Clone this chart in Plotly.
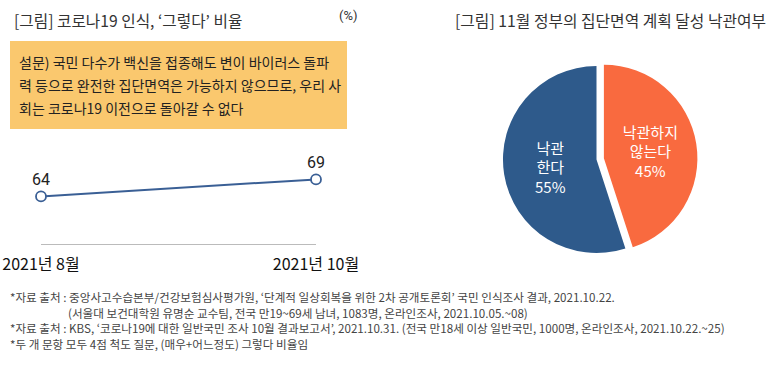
import plotly.graph_objects as go

W, H = 773, 367
FONT = "Roboto, Noto Sans CJK KR"
KFONT = "Noto Sans CJK KR"

# ---- data ----
line_periods = ["2021년 8월", "2021년 10월"]
line_values = [64, 69]

pie_labels = ["낙관하지<br>않는다", "낙관<br>한다"]
pie_values = [45, 55]
pie_colors = ["#F96A3F", "#2E5A8B"]

title_left = "[그림] 코로나19 인식, ‘그렇다’ 비율"
title_right = "[그림] 11월 정부의 집단면역 계획 달성 낙관여부"
question_lines = [
    "설문) 국민 다수가 백신을 접종해도 변이 바이러스 돌파",
    "력 등으로 완전한 집단면역은 가능하지 않으므로, 우리 사",
    "회는 코로나19 이전으로 돌아갈 수 없다",
]
notes = [
    "*자료 출처 : 중앙사고수습본부/건강보험심사평가원, ‘단계적 일상회복을 위한 2차 공개토론회’ 국민 인식조사 결과, 2021.10.22.",
    "(서울대 보건대학원 유명순 교수팀, 전국 만19~69세 남녀, 1083명, 온라인조사, 2021.10.05.~08)",
    "*자료 출처 : KBS, ‘코로나19에 대한 일반국민 조사 10월 결과보고서’, 2021.10.31. (전국 만18세 이상 일반국민, 1000명, 온라인조사, 2021.10.22.~25)",
    "*두 개 문항 모두 4점 척도 질문, (매우+어느정도) 그렇다 비율임",
]

def px(x):
    return x / W

def py(y):
    return 1 - y / H

fig = go.Figure()

fig.add_trace(go.Scatter(
    x=[0, 1], y=line_values,
    mode="lines+markers+text",
    text=[str(v) for v in line_values],
    textposition="top center",
    textfont=dict(size=16, color="#222222", family=FONT),
    line=dict(color="#3A5F95", width=2),
    marker=dict(size=10, color="white", line=dict(color="#3A5F95", width=1.8)),
    cliponaxis=False,
    showlegend=False,
    hoverinfo="skip",
))

fig.add_trace(go.Pie(
    labels=pie_labels, values=pie_values,
    text=[f"{l}<br>{v}%" for l, v in zip(pie_labels, pie_values)],
    textinfo="text",
    textposition="inside",
    insidetextorientation="horizontal",
    textfont=dict(size=15, color="white", family=KFONT),
    marker=dict(colors=pie_colors, line=dict(width=0)),
    sort=False, direction="clockwise", rotation=0,
    pull=[0.08, 0],
    domain=dict(x=[px(495.5), px(697.5)], y=[py(260.5), py(58.5)]),
    showlegend=False,
    hoverinfo="skip",
))

fig.update_layout(
    width=W, height=H,
    margin=dict(l=0, r=0, t=0, b=0, autoexpand=False),
    paper_bgcolor="white", plot_bgcolor="white",
    font=dict(family=KFONT, color="#333333"),
    xaxis=dict(
        domain=[px(41), px(316)], range=[0, 1],
        tickvals=[0, 1], ticktext=line_periods,
        tickfont=dict(size=16, color="#111111", family=KFONT),
        showgrid=False, zeroline=False, ticks="",
        showline=True, linecolor="#BBBBBB", linewidth=1,
        ticklabelstandoff=6, automargin=False,
    ),
    yaxis=dict(
        domain=[py(244), py(159)], range=[50, 75], automargin=False,
        showgrid=False, zeroline=False, showticklabels=False, showline=False,
    ),
    shapes=[dict(
        type="rect", xref="paper", yref="paper",
        x0=px(10), x1=px(347), y0=py(129), y1=py(41),
        fillcolor="#FAC86E", line=dict(width=0), layer="below",
    )],
)

ann = []
ann.append(dict(text=title_left, x=px(12), y=py(20), xanchor="left", yanchor="middle",
                font=dict(size=15.7, color="#333333", family=KFONT)))
ann.append(dict(text="(%)", x=px(348), y=py(16), xanchor="center", yanchor="middle",
                font=dict(size=13, color="#333333", family=FONT)))
ann.append(dict(text=title_right, x=px(453), y=py(20), xanchor="left", yanchor="middle",
                font=dict(size=15.8, color="#333333", family=KFONT)))
for i, t in enumerate(question_lines):
    ann.append(dict(text=t, x=px(17), y=py(62 + i * 23), xanchor="left", yanchor="middle",
                    font=dict(size=14, color="#222222", family=KFONT)))
note_pos = [(8, 297), (66, 313), (8, 328), (8, 344)]
for t, (nx, ny) in zip(notes, note_pos):
    ann.append(dict(text=t, x=px(nx), y=py(ny), xanchor="left", yanchor="middle",
                    font=dict(size=11.6, color="#444444", family=KFONT)))
for a in ann:
    a.update(xref="paper", yref="paper", showarrow=False)
fig.update_layout(annotations=ann)

fig.write_html("out.html", config={"displayModeBar": False},
               post_script="document.body.style.margin='0';")
